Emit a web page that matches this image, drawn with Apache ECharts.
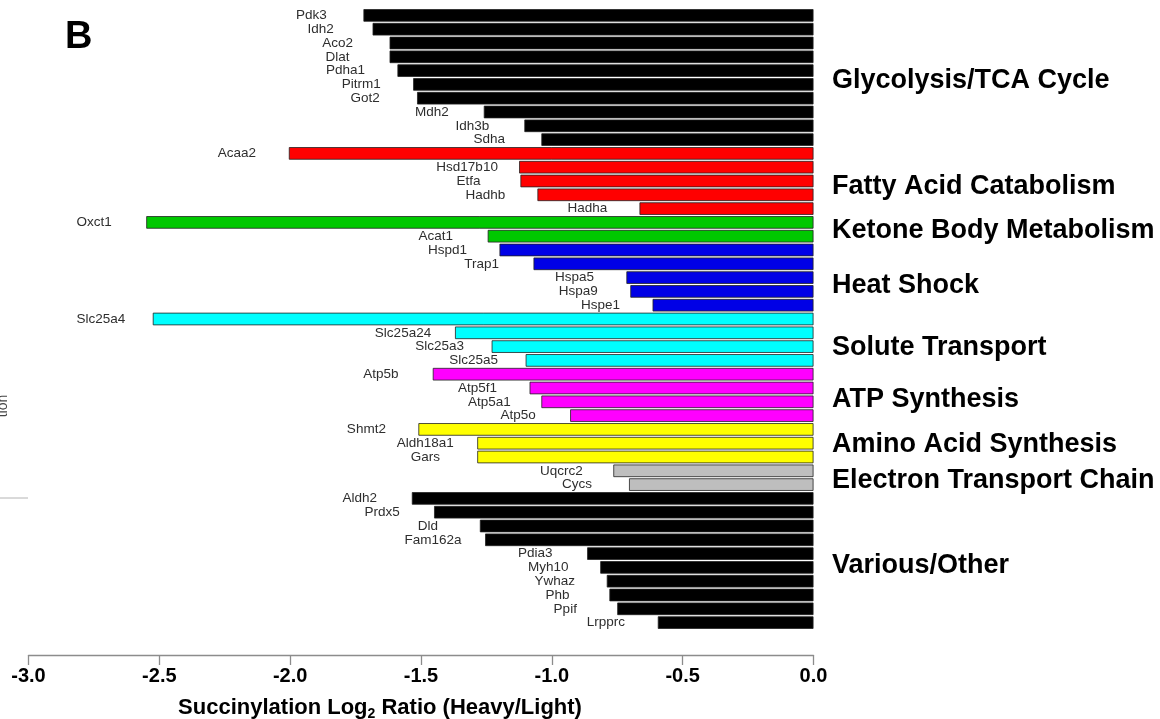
<!DOCTYPE html>
<html>
<head>
<meta charset="utf-8">
<script src="https://cdn.jsdelivr.net/npm/echarts@6/dist/echarts.min.js"></script>
<style>
  html, body { margin: 0; padding: 0; background: #ffffff; }
  #chart { width: 1160px; height: 719px; }
</style>
</head>
<body>
<div id="chart"></div>
<script>
// Proteins, top to bottom, grouped by pathway
const genes = [
  'Pdk3', 'Idh2', 'Aco2', 'Dlat', 'Pdha1', 'Pitrm1', 'Got2', 'Mdh2', 'Idh3b', 'Sdha',
  'Acaa2', 'Hsd17b10', 'Etfa', 'Hadhb', 'Hadha',
  'Oxct1', 'Acat1',
  'Hspd1', 'Trap1', 'Hspa5', 'Hspa9', 'Hspe1',
  'Slc25a4', 'Slc25a24', 'Slc25a3', 'Slc25a5',
  'Atp5b', 'Atp5f1', 'Atp5a1', 'Atp5o',
  'Shmt2', 'Aldh18a1', 'Gars',
  'Uqcrc2', 'Cycs',
  'Aldh2', 'Prdx5', 'Dld', 'Fam162a', 'Pdia3', 'Myh10', 'Ywhaz', 'Phb', 'Ppif', 'Lrpprc'
];

// Succinylation log2 ratio (heavy/light) per protein
const ratios = [
  -1.72, -1.685, -1.62, -1.62, -1.59, -1.53, -1.515, -1.26, -1.105, -1.04,
  -2.005, -1.125, -1.12, -1.055, -0.665,
  -2.55, -1.245,
  -1.20, -1.07, -0.715, -0.70, -0.615,
  -2.525, -1.37, -1.23, -1.10,
  -1.455, -1.085, -1.04, -0.93,
  -1.51, -1.285, -1.285,
  -0.765, -0.705,
  -1.535, -1.45, -1.275, -1.255, -0.865, -0.815, -0.79, -0.78, -0.75, -0.595
];

// Pathway groups and how many consecutive proteins belong to each
const groupNames = [
  'Glycolysis/TCA Cycle', 'Fatty Acid Catabolism', 'Ketone Body Metabolism',
  'Heat Shock', 'Solute Transport', 'ATP Synthesis', 'Amino Acid Synthesis',
  'Electron Transport Chain', 'Various/Other'
];
const groupSizes = [10, 5, 2, 5, 4, 4, 3, 2, 10];

// Axis range and step
const xMin = -3.0;
const xMax = 0.0;
const xStep = 0.5;

// ---- styling ----
const FONT = '"Liberation Sans", Arial, Helvetica, sans-serif';
const groupColors = ['#000000', '#FF0000', '#00C800', '#0000E6', '#00FFFF', '#FF00FF', '#FFFF00', '#BEBEBE', '#000000'];
const groupLabelNudge = [3.5, 5.5, 1.5, 8, 8, 5, 1.5, 3, 5.5];

// group index of each bar
const barGroup = [];
groupSizes.forEach((n, g) => { for (let i = 0; i < n; i++) barGroup.push(g); });

const chart = echarts.init(document.getElementById('chart'), null, { renderer: 'canvas' });

chart.setOption({
  animation: false,
  backgroundColor: '#ffffff',
  grid: { left: 28.5, right: 346.5, top: 8.5, height: 621, containLabel: false, outerBoundsMode: 'none' },
  xAxis: {
    type: 'value',
    min: xMin,
    max: xMax,
    interval: xStep,
    offset: 25.5,
    axisLine: { show: true, lineStyle: { color: '#8c8c8c', width: 1.3 } },
    axisTick: { show: true, length: 10, inside: false, lineStyle: { color: '#8c8c8c', width: 1.3 } },
    splitLine: { show: false },
    axisLabel: {
      margin: 11,
      fontSize: 20,
      fontWeight: 'bold',
      color: '#000',
      fontFamily: FONT,
      showMinLabel: true,
      showMaxLabel: true,
      formatter: v => v.toFixed(1)
    },
    name: '{t|Succinylation Log}{s|2}{t| Ratio (Heavy/Light)}',
    nameLocation: 'middle',
    nameGap: 40,
    nameTextStyle: {
      padding: [0, 82, 0, 0],
      rich: {
        t: { fontSize: 22, fontWeight: 'bold', color: '#000', fontFamily: FONT },
        s: { fontSize: 14, fontWeight: 'bold', color: '#000', fontFamily: FONT, padding: [12, 0, 0, 0] }
      }
    }
  },
  yAxis: {
    type: 'category',
    data: genes,
    inverse: true,
    show: false
  },
  series: [{
    type: 'bar',
    data: ratios,
    barCategoryGap: '9%',
    silent: true,
    itemStyle: {
      color: p => groupColors[barGroup[p.dataIndex]],
      borderColor: '#222222',
      borderWidth: 0.8
    },
    label: {
      show: true,
      position: 'left',
      distance: 52,
      align: 'center',
      verticalAlign: 'middle',
      fontSize: 13.5,
      color: '#2e2e2e',
      fontFamily: FONT,
      formatter: p => p.name
    }
  }]
});

// Pathway names to the right of each group, centred on the group's bars
const graphics = [];
let start = 0;
groupSizes.forEach((n, g) => {
  const yTop = chart.convertToPixel({ yAxisIndex: 0 }, genes[start]);
  const yBot = chart.convertToPixel({ yAxisIndex: 0 }, genes[start + n - 1]);
  graphics.push({
    type: 'text',
    x: 832,
    y: (yTop + yBot) / 2 + groupLabelNudge[g],
    style: {
      text: groupNames[g],
      font: 'bold 27px ' + FONT,
      fill: '#000',
      textAlign: 'left',
      textVerticalAlign: 'middle'
    }
  });
  start += n;
});

// Panel letter
graphics.push({
  type: 'text',
  x: 65,
  y: 38,
  style: { text: 'B', font: 'bold 38px ' + FONT, fill: '#000', textAlign: 'left', textVerticalAlign: 'middle' }
});

// Edge of the neighbouring panel: its rotated axis title and baseline
graphics.push({
  type: 'text',
  rotation: Math.PI / 2,
  x: 3,
  y: 406,
  style: { text: 'tion', font: '14px ' + FONT, fill: '#444', textAlign: 'center', textVerticalAlign: 'middle' }
});
graphics.push({
  type: 'line',
  shape: { x1: 0, y1: 498, x2: 28, y2: 498 },
  style: { stroke: '#b4b4b4', lineWidth: 1 }
});

chart.setOption({ graphic: graphics });
</script>
</body>
</html>
